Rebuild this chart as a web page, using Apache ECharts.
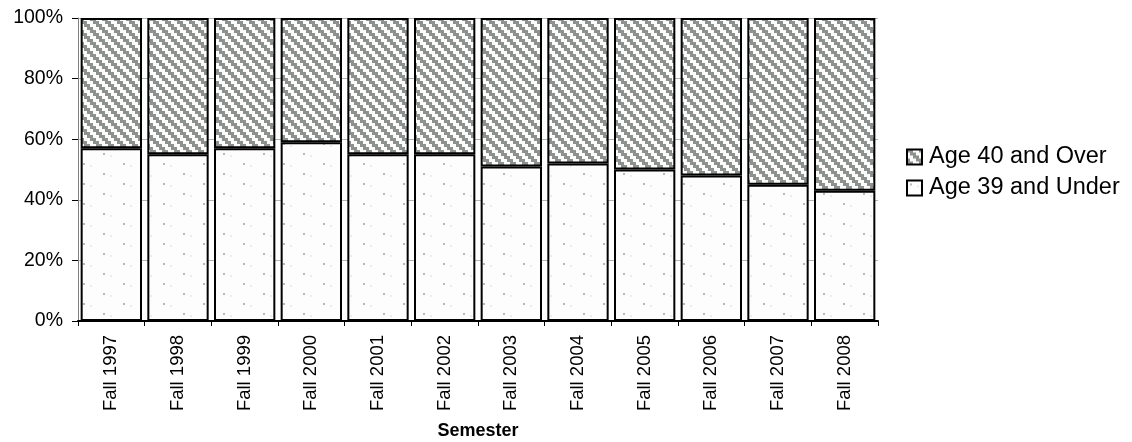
<!DOCTYPE html>
<html>
<head>
<meta charset="utf-8">
<script src="https://cdn.jsdelivr.net/npm/echarts@6/dist/echarts.min.js"></script>
<style>
  html, body { margin: 0; padding: 0; background: #fff; }
  #chart { width: 1132px; height: 442px; }
</style>
</head>
<body>
<div id="chart"></div>
<script>
// Share of students by age group, per fall semester (percent)
const semesters = ['Fall 1997', 'Fall 1998', 'Fall 1999', 'Fall 2000', 'Fall 2001', 'Fall 2002',
                   'Fall 2003', 'Fall 2004', 'Fall 2005', 'Fall 2006', 'Fall 2007', 'Fall 2008'];
const age39AndUnder = [57, 55, 57, 59, 55, 55, 51, 52, 50, 48, 45, 43];
const age40AndOver  = [43, 45, 43, 41, 45, 45, 49, 48, 50, 52, 55, 57];
const yTicks = [0, 20, 40, 60, 80, 100];

// Wide downward-diagonal stripe fill
function stripePattern() {
  const c = document.createElement('canvas');
  c.width = 12; c.height = 12;
  const g = c.getContext('2d');
  g.fillStyle = '#fcfcfc';
  g.fillRect(0, 0, 12, 12);
  g.fillStyle = '#8e928e';
  for (let cy = 0; cy < 4; cy++) {
    for (let cx = 0; cx < 4; cx++) {
      const k = ((cx - cy) % 4 + 4) % 4;
      if (k < 2) g.fillRect(cx * 3, cy * 3, 3, 3);
    }
  }
  return c;
}

// Sparse dotted fill
function dotPattern() {
  const c = document.createElement('canvas');
  c.width = 40; c.height = 20;
  const g = c.getContext('2d');
  g.fillStyle = '#fdfdfd';
  g.fillRect(0, 0, 40, 20);
  g.fillStyle = '#efebeb';
  g.fillRect(10, 5, 2, 2);
  g.fillRect(30, 15, 2, 2);
  g.fillStyle = '#bfb5b5';
  g.fillRect(3, 3, 2, 2);
  g.fillRect(23, 13, 2, 2);
  return c;
}

const stripes = { image: stripePattern(), repeat: 'repeat' };
const dots = { image: dotPattern(), repeat: 'repeat' };

const chart = echarts.init(document.getElementById('chart'), null, { renderer: 'canvas' });
const font = 'Liberation Sans, Arial, sans-serif';

chart.setOption({
  animation: false,
  grid: { left: 78, right: 254, top: 18, bottom: 121, containLabel: false, outerBoundsMode: 'none' },
  legend: {
    orient: 'vertical',
    left: 901,
    top: 140,
    itemWidth: 15,
    itemHeight: 15,
    itemGap: 7,
    icon: 'rect',
    data: ['Age 40 and Over', 'Age 39 and Under'],
    textStyle: { fontFamily: font, fontSize: 23.5, lineHeight: 23, color: '#000', padding: [0, 0, 0, 2] }
  },
  xAxis: {
    type: 'category',
    data: semesters,
    name: 'Semester',
    nameLocation: 'middle',
    nameGap: 101,
    nameTextStyle: { fontFamily: font, fontSize: 18, fontWeight: 'bold', color: '#000' },
    axisLine: { lineStyle: { color: '#000', width: 2 } },
    axisTick: { show: true, length: 5, interval: 0, lineStyle: { color: '#000', width: 1 } },
    axisLabel: { rotate: 90, interval: 0, margin: 14, fontFamily: font, fontSize: 18.5, color: '#000' }
  },
  yAxis: {
    type: 'value',
    min: yTicks[0],
    max: yTicks[yTicks.length - 1],
    interval: 20,
    axisLine: { show: true, lineStyle: { color: '#808080', width: 1 } },
    axisTick: { show: true, length: 6, lineStyle: { color: '#000' } },
    splitLine: { show: true, lineStyle: { color: '#b4b4b4', width: 1 } },
    axisLabel: { margin: 15, fontFamily: font, fontSize: 19.5, color: '#000', formatter: v => v + '%' }
  },
  series: [
    {
      name: 'Age 39 and Under',
      type: 'bar',
      stack: 'share',
      data: age39AndUnder,
      barCategoryGap: '8%',
      itemStyle: { color: dots, borderColor: '#000', borderWidth: 2 }
    },
    {
      name: 'Age 40 and Over',
      type: 'bar',
      stack: 'share',
      data: age40AndOver,
      barCategoryGap: '8%',
      itemStyle: { color: stripes, borderColor: '#000', borderWidth: 2 }
    }
  ]
});
</script>
</body>
</html>
